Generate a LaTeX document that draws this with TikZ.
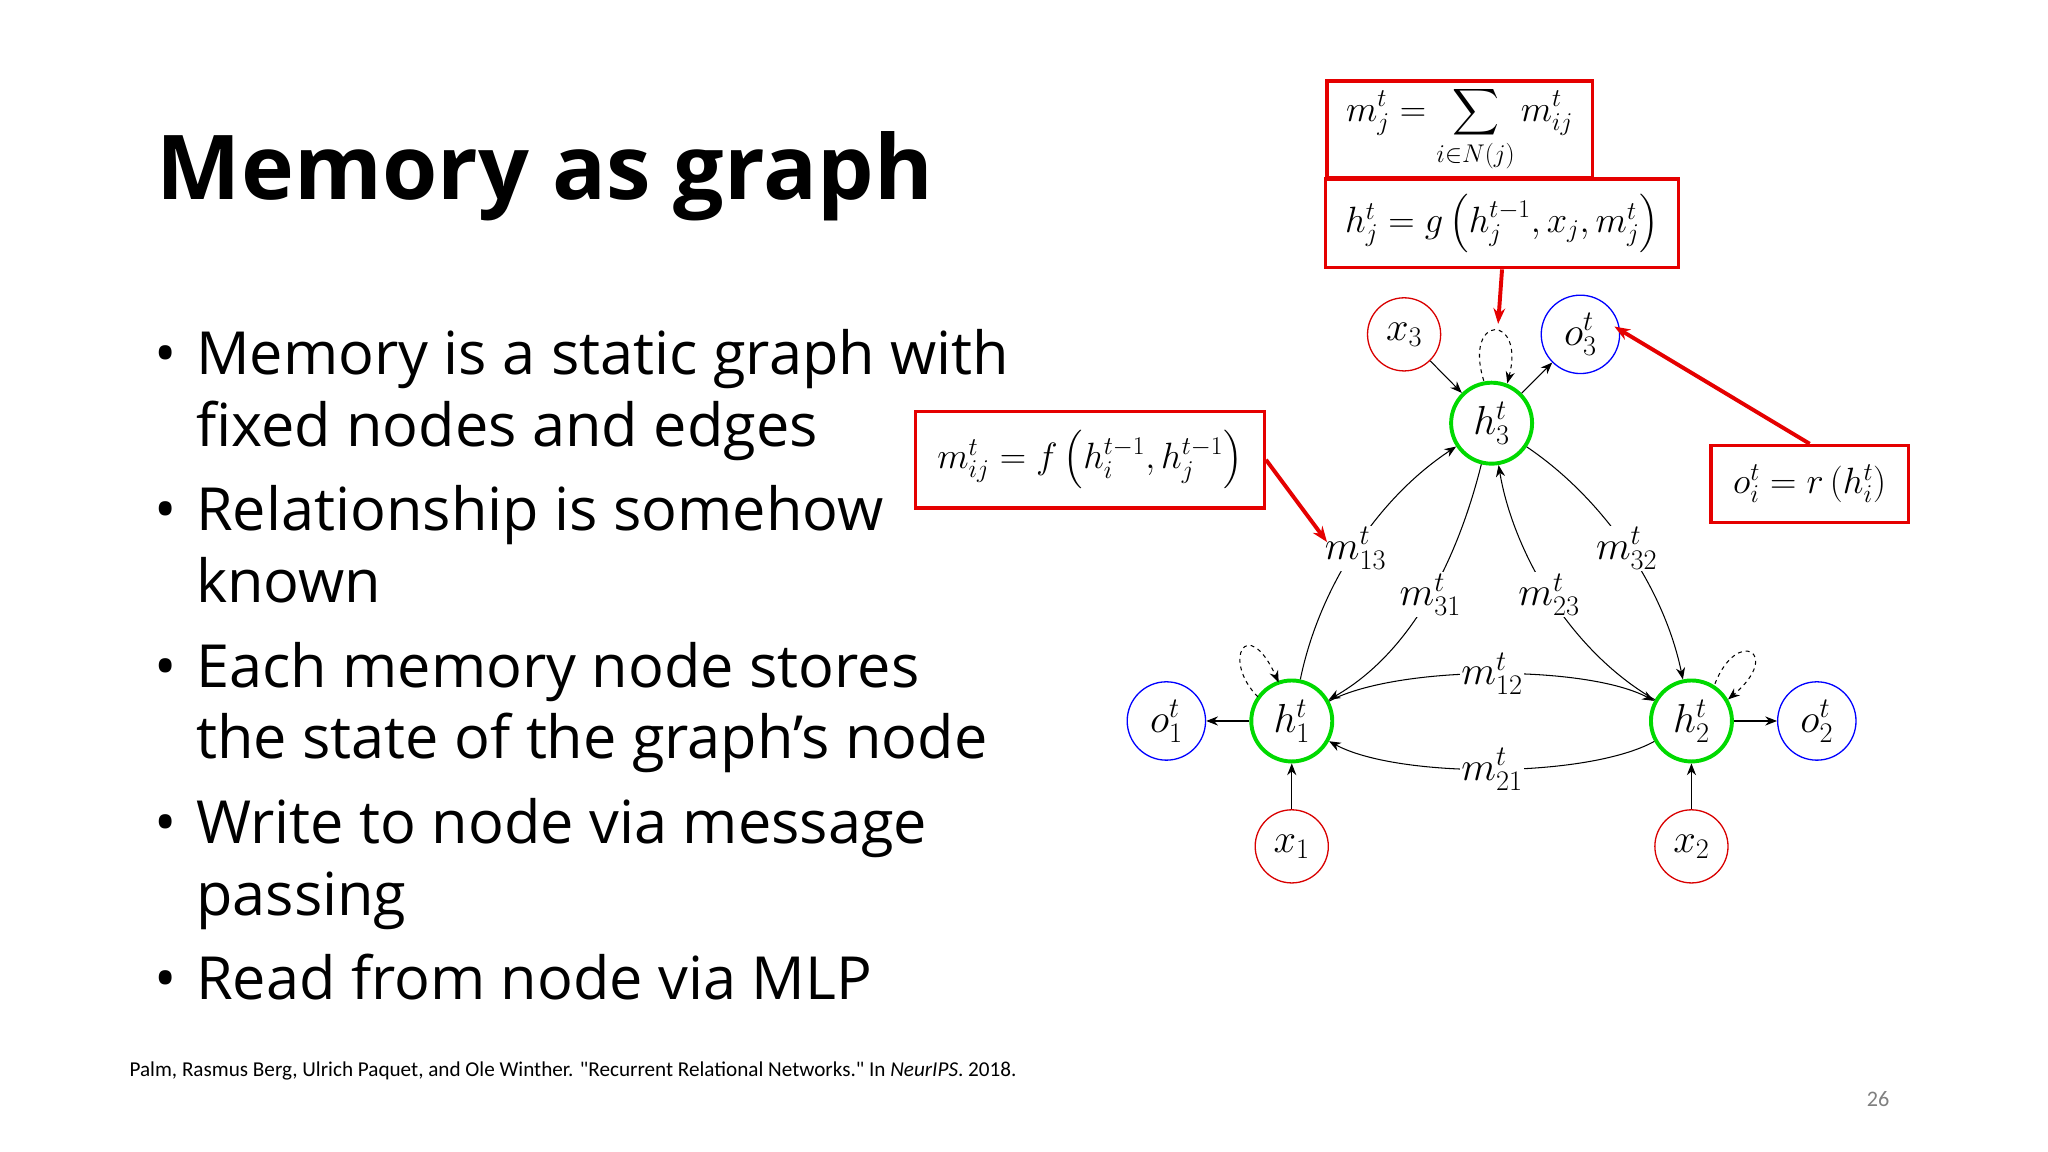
\RequirePackage{fix-cm}
\documentclass[tikz,border=0pt]{standalone}
\usepackage{amsmath}
\usepackage[no-math]{fontspec}
\setmainfont{Open Sans}
\newfontfamily\foot{Carlito}
\usetikzlibrary{arrows.meta}
\begin{document}
\begin{tikzpicture}[x=1pt,y=-1pt,
  bul/.style={anchor=base west,inner sep=0,font=\fontsize{45.5}{50}\selectfont},
  hnode/.style={circle,draw=green!85!black,line width=3pt,minimum size=62pt,inner sep=0,font=\fontsize{31}{33}\selectfont},
  xnode/.style={circle,draw=red!85!black,line width=1pt,minimum size=56pt,inner sep=0,font=\fontsize{31}{33}\selectfont},
  onode/.style={circle,draw=blue,line width=1pt,minimum size=60pt,inner sep=0,font=\fontsize{31}{33}\selectfont},
  eq/.style={draw=red!90!black,line width=2.5pt,inner sep=0,font=\fontsize{28}{30}\selectfont},
  lab/.style={fill=white,inner sep=1pt,font=\fontsize{31}{33}\selectfont},
  arr/.style={-{Stealth[length=9pt,width=7pt]},line width=0.8pt},
  redarr/.style={-{Stealth[length=12pt,width=9pt]},red!90!black,line width=3pt}]
\useasboundingbox[fill=white] (0,0) rectangle (1568,882);
\node[anchor=base west,inner sep=0,font=\fontsize{68.5}{70}\selectfont\bfseries] (title) at (120,153) {Memory as graph};
\foreach \y/\t [count=\i] in {287/Memory is a static graph with,406/Relationship is somehow,526/Each memory node stores,646/Write to node via message,765/Read from node via MLP}
  {\node[bul] (b\i) at (118,\y) {•}; \node[bul] (t\i) at (150,\y) {\t};}
\node[bul] (t1b) at (150,342) {fixed nodes and edges};
\node[bul] (t2b) at (150,461) {known};
\node[bul] (t3b) at (150,581) {the state of the graph’s node};
\node[bul] (t4b) at (150,701) {passing};
\node[anchor=base west,inner sep=0,font=\foot\fontsize{16.2}{18}\selectfont] (cite) at (99,824) {Palm, Rasmus Berg, Ulrich Paquet, and Ole Winther. "Recurrent Relational Networks." In \textit{NeurIPS}. 2018.};
\node[anchor=base,inner sep=0,text=gray,font=\foot\fontsize{17}{18}\selectfont] (pg) at (1438,847) {26};
% graph
\node[hnode] (h3) at (1142,324) {$h_3^t$};
\node[hnode] (h1) at (989,552) {$h_1^t$};
\node[hnode] (h2) at (1295,552) {$h_2^t$};
\node[xnode] (x3) at (1075,256) {$x_3$};
\node[xnode] (x1) at (989,648) {$x_1$};
\node[xnode] (x2) at (1295,648) {$x_2$};
\node[onode] (o3) at (1210,256) {$o_3^t$};
\node[onode] (o1) at (893,552) {$o_1^t$};
\node[onode] (o2) at (1391,552) {$o_2^t$};
\draw[arr] (x3) -- (h3);
\draw[arr] (h3) -- (o3);
\draw[arr] (h1) -- (o1);
\draw[arr] (h2) -- (o2);
\draw[arr] (x1) -- (h1);
\draw[arr] (x2) -- (h2);
\draw[arr] (h1) .. controls (1010,450) and (1054,382) .. node[lab,pos=0.5]{$m_{13}^t$} (h3);
\draw[arr] (h3) .. controls (1118,420) and (1085,497) .. node[lab,pos=0.5]{$m_{31}^t$} (h1);
\draw[arr] (h2) .. controls (1200,497) and (1158,420) .. node[lab,pos=0.5]{$m_{23}^t$} (h3);
\draw[arr] (h3) .. controls (1228,382) and (1274,450) .. node[lab,pos=0.5]{$m_{32}^t$} (h2);
\draw[arr] (h1) .. controls (1070,509) and (1215,509) .. node[lab,pos=0.5]{$m_{12}^t$} (h2);
\draw[arr] (h2) .. controls (1215,596) and (1070,596) .. node[lab,pos=0.5]{$m_{21}^t$} (h1);
\draw[arr,dashed] ([xshift=-6pt]h3.north) .. controls (1120,240) and (1168,240) .. ([xshift=12pt,yshift=-2pt]h3.north);
\draw[arr,dashed] ([xshift=-26pt,yshift=-14pt]h1.north) .. controls (935,505) and (955,470) .. ([xshift=-10pt,yshift=-3pt]h1.north);
\draw[arr,dashed] ([xshift=18pt,yshift=-4pt]h2.north) .. controls (1330,480) and (1365,500) .. ([xshift=28pt,yshift=-16pt]h2.north);
% equation boxes
\node[eq,minimum width=203pt,minimum height=74pt] (sum) at (1117.5,99) {$\displaystyle m_j^t=\sum_{i\in N(j)} m_{ij}^t$};
\node[eq,minimum width=270pt,minimum height=68pt] (hg) at (1150,171) {$h_j^t=g\left(h_j^{t-1},x_j,m_j^t\right)$};
\node[eq,minimum width=267pt,minimum height=74pt] (mf) at (834.5,352) {$m_{ij}^t=f\left(h_i^{t-1},h_j^{t-1}\right)$};
\node[eq,minimum width=151pt,minimum height=59pt] (or) at (1385.5,370.5) {$o_i^t=r\left(h_i^t\right)$};
\coordinate (hgtip) at (1147,248);
\coordinate (mftip) at (1016,415);
\coordinate (ortip) at (1236,250);
\draw[redarr] (hg.south) -- (hgtip);
\draw[redarr] (mf.east) -- (mftip);
\draw[redarr] (or.north) -- (ortip);
\end{tikzpicture}
\end{document}
